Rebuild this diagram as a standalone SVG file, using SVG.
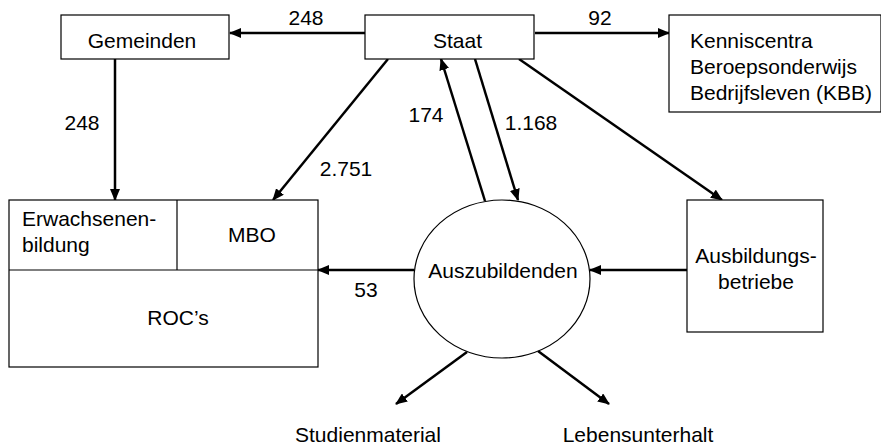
<svg xmlns="http://www.w3.org/2000/svg" width="881" height="447" viewBox="0 0 881 447">
<defs>
<marker id="ah" markerUnits="userSpaceOnUse" markerWidth="12" markerHeight="10" refX="11" refY="5" orient="auto">
<path d="M0,0 L12,5 L0,10 z" fill="#000"/>
</marker>
<style>
.box{fill:#fff;stroke:#000;stroke-width:1.2}
.t{font-family:"Liberation Sans",Arial,sans-serif;font-size:21px;fill:#000}
.c{text-anchor:middle}
.e{stroke:#000;stroke-width:2.5;fill:none;marker-end:url(#ah)}
</style>
</defs>
<rect width="881" height="447" fill="#fff"/>
<g id="connectors">
<line class="e" x1="365" y1="33" x2="230" y2="33"/>
<line class="e" x1="535" y1="33" x2="669" y2="33"/>
<line class="e" x1="115" y1="59" x2="115" y2="200"/>
<line class="e" x1="388" y1="59" x2="273" y2="200"/>
<line class="e" x1="485" y1="201" x2="441" y2="59"/>
<line class="e" x1="475" y1="59" x2="518" y2="200"/>
<line class="e" x1="519" y1="59" x2="722" y2="200"/>
<line class="e" x1="687" y1="270" x2="590" y2="270"/>
<line class="e" x1="414" y1="270" x2="318" y2="270"/>
<line class="e" x1="467" y1="352" x2="396" y2="404"/>
<line class="e" x1="538" y1="351" x2="609" y2="404"/>
<text class="t c" x="306" y="25">248</text>
<text class="t c" x="600" y="25">92</text>
<text class="t c" x="82" y="130">248</text>
<text class="t c" x="346" y="176">2.751</text>
<text class="t c" x="426" y="122">174</text>
<text class="t c" x="531" y="130">1.168</text>
<text class="t c" x="366" y="297">53</text>
</g>
<g id="gemeinden">
<rect class="box" x="61" y="15" width="168" height="44"/>
<text class="t c" x="142" y="48">Gemeinden</text>
</g>
<g id="staat">
<rect class="box" x="365" y="15" width="169" height="44"/>
<text class="t" x="433" y="48">Staat</text>
</g>
<g id="kbb">
<rect class="box" x="669" y="15" width="212" height="97"/>
<text class="t" x="690" y="48">Kenniscentra</text>
<text class="t" x="690" y="74">Beroepsonderwijs</text>
<text class="t" x="690" y="100">Bedrijfsleven (KBB)</text>
</g>
<g id="roc">
<rect class="box" x="9" y="200" width="309" height="167"/>
<line x1="9" y1="270" x2="318" y2="270" stroke="#000" stroke-width="1.2"/>
<line x1="177" y1="200" x2="177" y2="270" stroke="#000" stroke-width="1.2"/>
<text class="t" x="22" y="226">Erwachsenen-</text>
<text class="t" x="22" y="252">bildung</text>
<text class="t c" x="252" y="242">MBO</text>
<text class="t c" x="178" y="325">ROC’s</text>
</g>
<g id="auszubildenden">
<ellipse class="box" cx="502" cy="279" rx="88" ry="79"/>
<text class="t c" x="503" y="278">Auszubildenden</text>
</g>
<g id="ausbildungsbetriebe">
<rect class="box" x="687" y="200" width="136" height="132"/>
<text class="t c" x="756" y="263">Ausbildungs-</text>
<text class="t c" x="756" y="289">betriebe</text>
</g>
<g id="studienmaterial">
<text class="t c" x="368" y="442">Studienmaterial</text>
</g>
<g id="lebensunterhalt">
<text class="t c" x="638" y="442">Lebensunterhalt</text>
</g>
</svg>
